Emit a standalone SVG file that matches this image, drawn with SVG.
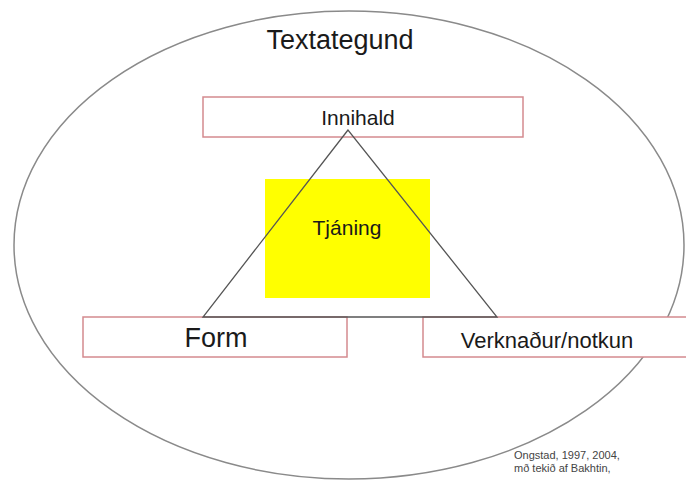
<svg xmlns="http://www.w3.org/2000/svg" width="686" height="481" viewBox="0 0 686 481">
<style>
.box{fill:#ffffff;stroke:#d48a8f;stroke-width:1.5}
.ln{fill:none;stroke:#555555;stroke-width:1.3}
.t{font-family:"Liberation Sans",Arial,sans-serif;fill:#1a1a1a;text-anchor:middle}
.n{font-family:"Liberation Sans",Arial,sans-serif;fill:#444444;font-size:11px}
</style>
<rect width="686" height="481" fill="#ffffff"/>
<g id="textategund">
<ellipse cx="349" cy="245" rx="335" ry="234" fill="none" stroke="#8a8a8a" stroke-width="1.5"/>
<text class="t" x="340" y="49" font-size="27">Textategund</text>
</g>
<g id="innihald">
<rect class="box" x="203" y="97" width="320" height="40"/>
<text class="t" x="358" y="125" font-size="21">Innihald</text>
</g>
<g id="form">
<rect class="box" x="83" y="317" width="264" height="40"/>
<text class="t" x="216" y="347" font-size="27">Form</text>
</g>
<g id="verknadur">
<rect class="box" x="423" y="317" width="270" height="40"/>
<text class="t" x="547" y="348" font-size="22">Verknaður/notkun</text>
</g>
<g id="tjaning">
<rect x="265" y="179" width="165" height="119" fill="#ffff00"/>
<text class="t" x="347" y="235" font-size="21">Tjáning</text>
</g>
<g id="connectors">
<polygon class="ln" points="348,130 203,317 497,317"/>
</g>
<g id="note">
<text class="n" x="514" y="459">Ongstad, 1997, 2004,</text>
<text class="n" x="514" y="472">mð tekið af Bakhtin,</text>
</g>
</svg>
